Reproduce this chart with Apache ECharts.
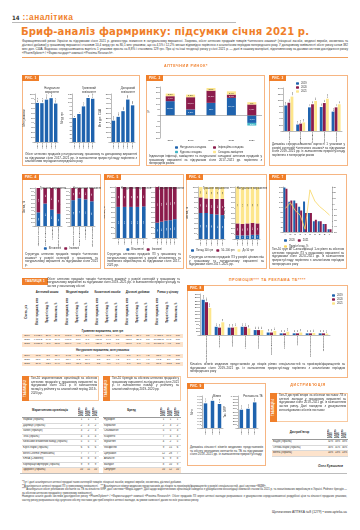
<!DOCTYPE html>
<html lang="uk"><head><meta charset="utf-8">
<script src="https://cdn.jsdelivr.net/npm/echarts@6.0.0/dist/echarts.min.js"></script>
<style>
html,body{margin:0;padding:0}
body{width:360px;height:530px;position:relative;overflow:hidden;background:#fff;font-family:"Liberation Sans","DejaVu Sans",sans-serif;color:#2a2a2a}
.a{position:absolute}
.box{position:absolute;border:1px solid #f6b582;box-sizing:border-box}
.rl{position:absolute;background:#f07f2a;color:#fff;font-weight:bold;font-size:3.2px;line-height:6px;padding:0 3px;letter-spacing:0.2px;z-index:5}
.cap{position:absolute;font-size:3px;line-height:3.7px;text-align:justify;color:#333;z-index:5}
.ch{position:absolute;z-index:2}
.h2{position:absolute;color:#f07f2a;font-size:3.6px;font-weight:bold;letter-spacing:0.6px;text-align:center;z-index:5}
.vl{position:absolute;background:#f07f2a;color:#fff;font-weight:bold;font-size:3px;writing-mode:vertical-rl;transform:rotate(180deg);text-align:center;z-index:5}
table{border-collapse:collapse;table-layout:fixed}
td{padding:0;overflow:hidden;white-space:nowrap}
.t1 td{font-size:2.5px;height:4.2px;line-height:4.2px;text-align:center}
.rot{writing-mode:vertical-rl;transform:rotate(180deg);font-size:2.6px;line-height:2.9px;white-space:normal}
.pe{background:#fde3cc}
.t2 td{font-size:2.6px;height:4.6px;line-height:4.6px;border-bottom:0.5px solid #d9d9d9}
</style></head>
<body>
<script>
// ================= DATA =================
const YEARS5 = ['2017','2018','2019','2020','2021'];
const YEARS3 = ['2019','2020','2021'];

// Рис. 1
const F1_PACKS = [81.4, 80.9, 88.2, 91.3, 80.1];
const F1_UAH = [6.0, 7.0, 8.9, 11.0, 10.8];
const F1_USD = [222, 262, 321, 442, 382];

// Рис. 2
const F2_NAMES = ['Натуральна складова','Інфляційна складова','Курсова складова','Складова заміщення'];
const F2_A = [12.5, 5.2, 11.0, 15.4, -6.7];
const F2_B = [4.4, 10.8, 10.8, 2.9, 9.6];
const F2_C = [null, null, null, null, -2.3];
const F2_D = [2.3, 2.3, 2.3, 2.9, 2.0];

// Рис. 3
const F3_CATS = ['Лікарські засоби','Медичні вироби','Косметика','Дієтичні добавки','Загалом'];
const F3_2019 = [83, 21, 77, 78, 63];
const F3_2020 = [92, 24, 87, 91, 77];
const F3_2021 = [112, 28, 98, 105, 87];

// Рис. 4
const F4_CATS = ['Лікарські засоби','Медичні вироби','Косметика','Дієтичні добавки'];
const F4_UAH_DOM = [36, 59, 43, 32];
const F4_UAH_FOR = [64, 41, 57, 68];
const F4_PCS_DOM = [68, 73, 70, 65];
const F4_PCS_FOR = [32, 27, 30, 35];

// Рис. 5
const F5_P1_DOM = [61, 61, 61, 61, 62];
const F5_P1_FOR = [39, 39, 39, 39, 38];
const F5_P2_DOM = [30, 32, 34, 35, 37];
const F5_P2_FOR = [70, 68, 66, 65, 63];

// Рис. 6
const F6_NAMES = ['Понад 100 грн','50–100 грн','До 50 грн'];
const F6_P1_HI = [50, 50, 48, 47, 46];
const F6_P1_MID = [30, 28, 29, 30, 31];
const F6_P1_LO = [20, 22, 23, 23, 23];
const F6_P2_HI = [7, 7, 7, 8, 8];
const F6_P2_MID = [23, 22, 23, 23, 22];
const F6_P2_LO = [70, 71, 70, 69, 70];

// Рис. 7
const F7_CATS = ['A','N','R','C','J','M','G','D','B','L'];
const F7_2020 = [17.8, 12.1, 12.6, 10.1, 12.2, 7.6, 4.3, 4.3, 3.2, 1.1];
const F7_2021 = [17.3, 12.6, 11.5, 8.6, 7.6, 7.6, 4.9, 4.3, 3.2, 1.1];
const F7_GROWTH = [-8, 2, -12, -20, -45, 25, 5, -5, -12, -20];

// Рис. 8
const F8_CATS = ['Провізори/фармацевти','Терапевти','Педіатри','Гінекологи','Неврологи','Отоларингологи','Кардіологи','Урологи','Гастроентерологи','Дерматологи'];
const F8_2019 = [258, 60, 54, 60, 36, 18, 12, 12, 12, 12];
const F8_2020 = [240, 54, 54, 60, 36, 18, 12, 12, 12, 12];
const F8_2021 = [198, 93, 60, 48, 36, 30, 24, 18, 15, 10];

// Рис. 9
const F9_VISITS = [0.77, 0.85, 0.75];
const F9_TV = [570, 600, 800];

// Таблиця 1
const T1_GROUPS = ['Аптечний кошик','Медичні вироби','Косметичні засоби','Дієтичні добавки','Ринок у цілому'];
const T1_SUB = ['Обсяг продажів, млн','Приріст/ спад, %','Питома вага, %'];
const T1_UAH = [
  ['2019','7 962,4','20,0','84,2','795,3','13,3','8,4','366,2','18,7','3,9','331,8','26,4','3,5','9 455,7','19,6','100'],
  ['2020','9 117,2','14,5','84,0','906,1','13,9','8,3','417,5','14,0','3,8','415,7','25,3','3,8','10 856,5','14,8','100'],
  ['2021','8 657,3','-5,0','83,5','869,9','-4,0','8,4','427,1','2,3','4,1','417,0','0,3','4,0','10 371,3','-4,5','100']
];
const T1_PCS = [
  ['2019','66,8','5,0','75,4','14,5','2,0','16,4','3,6','6,5','4,1','3,7','8,4','4,2','88,6','4,8','100'],
  ['2020','68,1','2,0','74,6','15,4','6,2','16,9','3,8','5,6','4,2','3,9','5,4','4,3','91,2','2,9','100'],
  ['2021','59,3','-12,9','74,0','13,6','-11,7','17,0','3,5','-7,9','4,4','3,7','-5,1','4,6','80,1','-12,2','100']
];

// Таблиця 2, 3
const T2_NAMES = ['Фармак (Україна)','Дарниця (Україна)','Sanofi (Франція)','Teva (Ізраїль)','Київський вітамінний завод (Україна)','Юрія-Фарм (Україна)','Berlin-Chemie (Німеччина)','KRKA (Словенія)','Корпорація Артеріум (Україна)','Здоров\u2019я (Україна)'];
const T2_RANKS = [[1,1,1],[2,3,2],[3,2,3],[4,4,4],[5,5,5],[6,6,6],[7,7,7],[8,8,8],[9,9,9],[10,11,10]];
const T3_NAMES = ['Нурофен','Корвалол','Спазмалгон','Ксарелто','Мукалтин','Фосфоглів','Цитрамон','Анальгін','Валідол','Синупрет'];
const T3_RANKS = [[1,1,1],[2,3,2],[5,5,3],[7,4,4],[4,2,5],[9,15,6],[12,28,7],[6,9,8],[8,10,9],[10,12,10]];

// Таблиця 4
const T4_NAMES = ['БаДМ (Україна)','Оптіма-Фарм (Україна)','Вента (Україна)'];
const T4_SHARES = [['32%','33%','33%'],['30%','31%','30%'],['14%','13%','13%']];

// ================= HELPERS =================
const FONT = '"Liberation Sans", Arial, sans-serif';
const C = {blue:'#1f63ae', red:'#8b1c4c', yel:'#fde68c', cyan:'#43b7c7'};
const fmt = v => (v === null || v === undefined) ? '' : String(v).replace('.', ',');
const fmtInt = v => String(v).replace('.', ',').replace(/\B(?=(\d{3})+(?!\d))/g, ' ');

function el(tag, cls, x, y, w, h, html, style) {
  const d = document.createElement(tag);
  if (cls) d.className = cls;
  d.style.left = x + 'px'; d.style.top = y + 'px';
  if (w !== null) d.style.width = w + 'px';
  if (h !== null) d.style.height = h + 'px';
  if (html) d.innerHTML = html;
  if (style) Object.assign(d.style, style);
  if (!d.style.position) d.style.position = 'absolute';
  document.body.appendChild(d);
  return d;
}
function chart(x, y, w, h, opt) {
  const d = el('div', 'ch', x, y, w, h);
  const c = echarts.init(d, null, {width: w, height: h, renderer: 'canvas'});
  opt.animation = false;
  c.setOption(opt);
}
function G(ox, oy, x1, y1, x2, y2) {
  return {left: x1 - ox, top: y1 - oy, width: x2 - x1, height: y2 - y1, containLabel: false, outerBoundsMode: 'none'};
}
const LINE = {show: true, lineStyle: {color: '#777', width: 0.5}};
function vAx(gi, min, max, iv, name, o) {
  return Object.assign({
    type: 'value', gridIndex: gi, min, max, interval: iv, name,
    nameLocation: 'middle', nameGap: 8, nameRotate: 90,
    nameTextStyle: {fontSize: 2.7, color: '#333', fontFamily: FONT},
    axisLabel: {fontSize: 2.5, color: '#333', margin: 1.2, fontFamily: FONT, formatter: v => fmtInt(v)},
    axisLine: LINE, axisTick: {show: true, length: 1, lineStyle: {color: '#777', width: 0.5}},
    splitLine: {show: false}
  }, o || {});
}
function cAx(gi, data, rot, o) {
  return Object.assign({
    type: 'category', gridIndex: gi, data,
    axisLabel: {fontSize: 2.5, color: '#333', margin: 1.2, rotate: rot, interval: 0, fontFamily: FONT},
    axisLine: LINE, axisTick: {show: false}
  }, o || {});
}
const topLab = {show: true, position: 'top', rotate: 90, align: 'left', verticalAlign: 'middle', distance: 1, fontSize: 2.2, color: '#333', fontFamily: FONT, formatter: p => fmt(p.value)};
const inLab = {show: true, position: 'inside', rotate: 90, fontSize: 2.2, color: '#fff', fontFamily: FONT, formatter: p => fmt(p.value)};
function bar(name, data, color, xi, yi, o) {
  return Object.assign({type: 'bar', name, data, xAxisIndex: xi, yAxisIndex: yi, itemStyle: {color}, label: topLab}, o || {});
}
function ttl(text, x, y) {
  return {text, left: x, top: y, textAlign: 'center', textStyle: {fontSize: 2.8, fontWeight: 'normal', color: '#333', lineHeight: 3.4, fontFamily: FONT}};
}
function leg(data, left, top, o) {
  return Object.assign({data, left, top, itemWidth: 3, itemHeight: 2.4, itemGap: 3, padding: 0,
    textStyle: {fontSize: 2.6, color: '#333', fontFamily: FONT, padding: [0, 0, 0, -3]}}, o || {});
}
</script>

<!-- ===== HEADER ===== -->
<div class="a" style="left:12px;top:14px;font-size:6px;font-weight:bold;color:#333;font-family:'Liberation Sans Narrow','DejaVu Sans Condensed',sans-serif">14</div>
<div class="a" style="left:22.5px;top:11.5px;font-size:8.3px;font-weight:bold;color:#f07f2a;letter-spacing:0.5px">::аналітика</div>
<div class="a" style="left:12px;top:22px;width:224px;height:0.8px;background:#b9b9b9"></div>
<div class="a" style="left:21px;top:24.5px;font-size:11.2px;font-weight:bold;color:#f07f2a;white-space:nowrap;font-family:'Liberation Sans Narrow','DejaVu Sans Condensed',sans-serif;letter-spacing:0.1px">Бриф-аналіз фармринку: підсумки січня 2021 р.</div>
<div class="cap" style="left:22px;top:39px;width:326px;font-size:3.05px;line-height:4px">Фармацевтичний ринок України за підсумками січня 2021 р. демонструє зниження в натуральному вираженні. Зокрема, обсяг аптечних продажів товарів «аптечного кошика» (лікарські засоби, медичні вироби, косметика та дієтичні добавки) у грошовому вираженні становив 10,4 млрд грн за 80,1 млн упаковок, що на 4,5% і 12,2% менше відповідно порівняно з аналогічним періодом попереднього року. У доларовому еквіваленті обсяг ринку склав 382 млн дол. США. Водночас середньозважена вартість 1 упаковки зросла на 8,8% і становила 129 грн. Про ці та інші тенденції ринку у січні 2021 р. — далі в нашому матеріалі, підготовленому за даними системи дослідження ринку «PharmXplorer» / «Фармстандарт» компанії «Proxima Research».</div>
<div class="a" style="left:22px;top:57px;width:326px;height:0.8px;background:#f0a060"></div>
<div class="h2" style="left:150px;top:64px;width:72px">АПТЕЧНИЙ РИНОК*</div>

<!-- ===== BOXES ===== -->
<div class="box" style="left:22px;top:75px;width:118px;height:91px"></div>
<div class="rl" style="left:22px;top:75px">РИС. 1</div>
<div class="box" style="left:146px;top:75px;width:119px;height:91px"></div>
<div class="rl" style="left:146px;top:75px">РИС. 2</div>
<div class="box" style="left:269px;top:75px;width:79px;height:91px"></div>
<div class="rl" style="left:269px;top:75px">РИС. 3</div>

<div class="box" style="left:22px;top:174px;width:79px;height:95px"></div>
<div class="rl" style="left:22px;top:174px">РИС. 4</div>
<div class="box" style="left:104px;top:174px;width:80px;height:95px"></div>
<div class="rl" style="left:104px;top:174px">РИС. 5</div>
<div class="box" style="left:186px;top:174px;width:81px;height:95px"></div>
<div class="rl" style="left:186px;top:174px">РИС. 6</div>
<div class="box" style="left:269px;top:174px;width:78px;height:95px"></div>
<div class="rl" style="left:269px;top:174px">РИС. 7</div>

<div class="h2" style="left:215px;top:278px;width:105px">ПРОМОЦІЯ*** ТА РЕКЛАМА ТБ****</div>
<div class="box" style="left:187px;top:285px;width:161px;height:93px"></div>
<div class="rl" style="left:187px;top:285px">РИС. 8</div>
<div class="box" style="left:187px;top:383px;width:79px;height:83px"></div>
<div class="rl" style="left:187px;top:383px">РИС. 9</div>

<!-- captions -->
<div class="cap" style="left:25px;top:153px;width:112px">Обсяг аптечних продажів у натуральному, грошовому та доларовому вираженні за підсумками січня 2017–2021 рр. із зазначенням приросту/спаду порівняно з аналогічним періодом попереднього року</div>
<div class="cap" style="left:149px;top:155px;width:113px">Індикатори інфляції, заміщення та натуральної складової аптечних продажів у грошовому вираженні за підсумками січня 2017–2021 рр. порівняно з попереднім роком</div>
<div class="cap" style="left:272px;top:143px;width:73px">Динаміка середньозваженої вартості 1 упаковки у розрізі категорій «аптечного кошика» за підсумками січня 2019–2021 рр. із зазначенням приросту/спаду порівняно з попереднім роком</div>
<div class="cap" style="left:25px;top:253px;width:73px">Структура аптечних продажів товарів «аптечного кошика» у розрізі категорій у грошовому та натуральному вираженні за підсумками січня 2021 р.</div>
<div class="cap" style="left:107px;top:253px;width:74px">Структура аптечних продажів ЛЗ у грошовому та натуральному вираженні у розрізі вітчизняного та іноземного виробництва за підсумками січня 2017–2021 рр.</div>
<div class="cap" style="left:189px;top:256px;width:75px">Структура аптечних продажів ЛЗ у розрізі цінових ніш у грошовому та натуральному вираженні за підсумками січня 2017–2021 рр.</div>
<div class="cap" style="left:272px;top:248px;width:72px">Топ-10 груп АТС-класифікації 1-го рівня за обсягом аптечних продажів ЛЗ у грошовому вираженні за підсумками січня 2020–2021 рр. із зазначенням приросту/спаду порівняно з аналогічним періодом попереднього року</div>
<div class="cap" style="left:190px;top:363px;width:155px">Кількість візитів медичних представників до лікарів різних спеціальностей та провізорів/фармацевтів за підсумками січня 2019–2021 рр. із зазначенням приросту/спаду порівняно з аналогічним періодом попереднього року</div>
<div class="cap" style="left:190px;top:446px;width:73px">Динаміка кількості візитів медичних представників та обсягу рекламних контактів на ТБ за підсумками січня 2019–2021 рр. із зазначенням приросту/спаду</div>

<!-- ===== TABLE 1 ===== -->
<div class="rl" style="left:22px;top:278px;line-height:7px">ТАБЛИЦЯ 1</div>
<div class="cap" style="left:47px;top:277.5px;width:133px">Обсяг аптечних продажів товарів «аптечного кошика» у розрізі категорій у грошовому та натуральному вираженні за підсумками січня 2019–2021 рр. із зазначенням приросту/спаду та частки у загальному обсязі</div>
<div id="t1" class="a" style="left:22px;top:289px;width:161px"></div>

<!-- ===== TABLES 2,3 ===== -->
<div class="box" style="left:22px;top:376px;width:77px;height:25px;border-color:#f8c9a0"></div>
<div class="vl" style="left:22px;top:376px;width:7px;height:25px;line-height:7px">ТАБЛИЦЯ 2</div>
<div class="cap" style="left:31px;top:377px;width:66px">Топ-10 маркетингових організацій за обсягом аптечних продажів у грошовому вираженні за підсумками січня 2021 р. із зазначенням позиції у рейтингу за аналогічний період 2019–2020 рр.</div>
<div class="box" style="left:103px;top:376px;width:78px;height:25px;border-color:#f8c9a0"></div>
<div class="vl" style="left:103px;top:376px;width:7px;height:25px;line-height:7px">ТАБЛИЦЯ 3</div>
<div class="cap" style="left:112px;top:377px;width:67px">Топ-10 брендів за обсягом аптечних продажів у грошовому вираженні за підсумками січня 2021 р. із зазначенням позиції у рейтингу за аналогічний період 2019–2020 рр.</div>
<div id="t2" class="a" style="left:22px;top:404px;width:77px"></div>
<div id="t3" class="a" style="left:103px;top:404px;width:78px"></div>

<!-- ===== DISTRIBUTION ===== -->
<div class="h2" style="left:280px;top:383px;width:56px">ДИСТРИБ'ЮЦІЯ</div>
<div class="box" style="left:270px;top:393px;width:78px;height:29px;border-color:#f8c9a0"></div>
<div class="vl" style="left:270px;top:393px;width:7px;height:29px;line-height:7px">ТАБЛИЦЯ 4</div>
<div class="cap" style="left:279px;top:394px;width:67px">Топ-3 дистриб'ютори за обсягом поставок ЛЗ в аптечні заклади у грошовому вираженні за підсумками січня 2019–2021 рр. із зазначенням частки ринку. Дані наведено з урахуванням консолідованих обсягів поставок</div>
<div id="t4" class="a" style="left:272px;top:426px;width:76px"></div>
<div class="a" style="left:318px;top:464px;font-size:3.2px;font-weight:bold;font-style:italic;color:#333">Олег Кувшинов</div>

<!-- ===== FOOTER ===== -->
<div class="a" style="left:20px;top:473px;width:327px;height:0.8px;background:#bcbcbc"></div>
<div class="cap" style="left:22px;top:481px;width:325px;font-size:2.7px;line-height:3.5px">*Тут і далі аналізуються аптечні продажі таких категорій товарів: лікарські засоби, медичні вироби, косметика, дієтичні добавки.<br>**Аналізуються аптечні продажі ЛЗ у гривневому еквіваленті. &nbsp; ***Аналізуються візити медичних представників до лікарів та провізорів/фармацевтів у розрізі спеціальностей, дані системи «МДМ».<br>****Аналізується обсяг рекламних контактів на ТБ за кількістю GRP, дані системи «Медіа-аудит». Дані щодо маркетингових організацій наведено з урахуванням консолідації компаній станом на 2021 р. та локалізованих виробництв в Україні. Рейтинг брендів — за обсягом аптечних продажів у гривневому еквіваленті.<br>Наведено аналіз даних системи дослідження ринку «PharmXplorer» / «Фармстандарт» компанії «Proxima Research». Обсяг продажів ЛЗ через аптечні заклади розраховано з урахуванням середньозваженої роздрібної ціни та кількості проданих упаковок, частку ринку розраховано від сукупного обсягу поставок дистриб'юторів в аптечні заклади, за умови наявності даних по всіх учасниках ринку.</div>
<div class="a" style="left:272px;top:510px;font-size:3.3px;color:#333;white-space:nowrap">Щотижневик АПТЕКА №8 (1279) • www.apteka.ua</div>

<script>
// ================= TABLES =================
(function(){
  let h = '<table class="t1" style="width:161px"><colgroup><col style="width:10px">';
  for (let i = 0; i < 15; i++) h += '<col style="width:' + ([12,8,10][i%3]) + 'px">';
  h += '</colgroup><tr><td style="height:7px"></td>';
  T1_GROUPS.forEach(g => h += '<td colspan="3" style="font-weight:bold;font-size:2.8px;white-space:normal;line-height:3px">' + g + '</td>');
  h += '</tr><tr><td style="height:32px"><div class="rot" style="margin:auto;font-weight:bold">Січень, рік</div></td>';
  T1_GROUPS.forEach(() => T1_SUB.forEach(s => h += '<td style="height:32px"><div class="rot" style="margin:auto;height:30px;font-weight:bold;color:#222">' + s + '</div></td>'));
  h += '</tr><tr><td colspan="16" style="font-weight:bold;font-size:2.8px;height:6px">Гривневе вираження, млн грн</td></tr>';
  T1_UAH.forEach((r, i) => { h += '<tr' + (i !== 1 ? ' class="pe"' : '') + '>'; r.forEach(v => h += '<td>' + v + '</td>'); h += '</tr>'; });
  h += '<tr><td colspan="16" style="font-weight:bold;font-size:2.8px;height:7px">Натуральне вираження, млн упаковок</td></tr>';
  T1_PCS.forEach((r, i) => { h += '<tr' + (i !== 1 ? ' class="pe"' : '') + '>'; r.forEach(v => h += '<td>' + v + '</td>'); h += '</tr>'; });
  h += '</table>';
  document.getElementById('t1').innerHTML = h;

  function rankTable(id, head, names, ranks, w) {
    let s = '<table class="t2" style="width:' + w + 'px"><colgroup><col><col style="width:7px"><col style="width:7px"><col style="width:7px"></colgroup>';
    s += '<tr><td style="height:13px;text-align:center;font-weight:bold;font-size:2.8px;border-bottom:0.5px solid #999">' + head + '</td>';
    YEARS3.forEach(y => s += '<td style="height:13px;border-bottom:0.5px solid #999"><div class="rot" style="margin:auto;font-weight:bold;height:10px">Січень ' + y + '</div></td>');
    s += '</tr>';
    names.forEach((n, i) => {
      s += '<tr' + (i === names.length - 1 ? ' class="pe"' : '') + '><td style="padding-left:1px">' + n + '</td>';
      ranks[i].forEach(v => s += '<td style="text-align:center">' + v + '</td>');
      s += '</tr>';
    });
    s += '</table>';
    document.getElementById(id).innerHTML = s;
  }
  rankTable('t2', 'Маркетингова організація', T2_NAMES, T2_RANKS, 77);
  rankTable('t3', 'Бренд', T3_NAMES, T3_RANKS, 78);
  rankTable('t4', 'Дистриб\u2019ютор', T4_NAMES, T4_SHARES, 76);
})();

// ================= CHARTS =================
(function(){
  const ox = 22, oy = 75;
  chart(ox, oy, 118, 91, {
    title: [ttl('Натуральне\nвираження', 25, 7), ttl('Гривневий\nеквівалент', 62, 7), ttl('Доларовий\nеквівалент', 101, 7)],
    grid: [G(ox,oy,35,94,58,142), G(ox,oy,72,94,95,142), G(ox,oy,111,94,135,142)],
    xAxis: [cAx(0, YEARS5, 90), cAx(1, YEARS5, 90), cAx(2, YEARS5, 90)],
    yAxis: [vAx(0, 0, 100, 10, 'Млн упаковок'), vAx(1, 0, 12, 1, 'Млрд грн', {nameGap: 5}), vAx(2, 0, 500, 50, 'Млн дол. США')],
    series: [bar('a', F1_PACKS, C.blue, 0, 0, {barWidth: 3.4}), bar('b', F1_UAH, C.blue, 1, 1, {barWidth: 3.4}), bar('c', F1_USD, C.blue, 2, 2, {barWidth: 3.4})]
  });
})();

(function(){
  const ox = 146, oy = 75;
  const lab = Object.assign({}, inLab, {rotate: 0, fontSize: 2.2});
  const mk = (name, data, color, tc) => ({type: 'bar', name, data, stack: 's', barWidth: 9, itemStyle: {color}, label: Object.assign({}, lab, {color: tc || '#fff', formatter: p => fmt(p.value) + '%'})});
  const s0 = mk(F2_NAMES[0], F2_A, C.blue);
  s0.markLine = {silent: true, symbol: 'none', data: [{yAxis: 0}], lineStyle: {color: '#777', width: 0.5, type: 'solid'}, label: {show: false}};
  chart(ox, oy, 119, 91, {
    grid: [G(ox,oy,160,87,262,138)],
    xAxis: [cAx(0, YEARS5, 0, {axisLine: {show: false, onZero: false}})],
    yAxis: [vAx(0, -20, 25, 5, '%', {nameGap: 9, nameRotate: 0})],
    legend: [leg([F2_NAMES[0], F2_NAMES[2]], 29, 71, {orient: 'vertical', itemGap: 1.5}), leg([F2_NAMES[1], F2_NAMES[3]], 67, 71, {orient: 'vertical', itemGap: 1.5})],
    series: [s0, mk(F2_NAMES[1], F2_B, C.red), mk(F2_NAMES[2], F2_C, C.cyan), mk(F2_NAMES[3], F2_D, C.yel, '#333')]
  });
})();

(function(){
  const ox = 269, oy = 75;
  chart(ox, oy, 79, 68, {
    grid: [G(ox,oy,283,88,342,131)],
    xAxis: [cAx(0, F3_CATS, 90)],
    yAxis: [vAx(0, 0, 140, 20, 'Грн')],
    legend: [leg(YEARS3, 27, 7, {orient: 'vertical', itemGap: 1})],
    series: [bar('2019', F3_2019, C.blue, 0, 0, {barWidth: 2.8}), bar('2020', F3_2020, C.red, 0, 0, {barWidth: 2.8}), bar('2021', F3_2021, C.yel, 0, 0, {barWidth: 2.8})]
  });
})();

function stackPanels(ox, oy, w, h, cats, rot, grids, titles, panels, names, colors, legendTop, legO) {
  const opt = {title: titles, grid: [], xAxis: [], yAxis: [], series: [],
    legend: [leg(names, 'center', legendTop, Object.assign({itemGap: 3}, legO || {}))]};
  grids.forEach((g, i) => {
    opt.grid.push(G(ox, oy, g[0], g[1], g[2], g[3]));
    opt.xAxis.push(cAx(i, cats, rot));
    opt.yAxis.push(vAx(i, 0, 100, 10, 'Частка, %', {nameGap: 7}));
    panels[i].forEach((d, k) => opt.series.push({type: 'bar', name: names[k], data: d, stack: 'p' + i, xAxisIndex: i, yAxisIndex: i, barWidth: 3.6,
      itemStyle: {color: colors[k]}, label: Object.assign({}, inLab, {color: colors[k] === C.yel ? '#333' : '#fff'})}));
  });
  chart(ox, oy, w, h, opt);
}
stackPanels(22, 174, 79, 80, F4_CATS, 90,
  [[35,188,62,226],[70,188,95,226]],
  [ttl('Грошове вираження', 26, 8), ttl('Натуральне вираження', 61, 8)],
  [[F4_UAH_DOM, F4_UAH_FOR], [F4_PCS_DOM, F4_PCS_FOR]], ['Вітчизняні','Іноземні'], [C.blue, C.red], 73);
stackPanels(104, 174, 80, 80, YEARS5, 90,
  [[115,187,147,238],[155,187,177,238]],
  [ttl('Натуральне вираження', 27, 8), ttl('Грошове вираження', 62, 8)],
  [[F5_P1_DOM, F5_P1_FOR], [F5_P2_DOM, F5_P2_FOR]], ['Вітчизняні','Іноземні'], [C.blue, C.red], 74);
stackPanels(186, 174, 81, 82, YEARS5, 90,
  [[198,187,225,239],[235,187,260,239]],
  [ttl('Грошове вираження', 25, 8), ttl('Натуральне вираження', 61, 8)],
  [[F6_P1_HI, F6_P1_MID, F6_P1_LO], [F6_P2_HI, F6_P2_MID, F6_P2_LO]], F6_NAMES, [C.blue, C.red, C.yel], 75, {left: 5, width: 70});

(function(){
  const ox = 269, oy = 174;
  chart(ox, oy, 78, 74, {
    grid: [G(ox,oy,283,187,332,232)],
    xAxis: [cAx(0, F7_CATS, 0)],
    yAxis: [vAx(0, 0, 18, 2, 'Частка, %', {nameGap: 7}),
            vAx(0, -50, 30, 10, 'Приріст/спад, %', {position: 'right', nameGap: 8, nameRotate: -90})],
    legend: [leg(['2020','2021','Приріст/спад, %'], 14, 65, {width: 50})],
    series: [
      bar('2020', F7_2020, C.blue, 0, 0, {barWidth: 2, barGap: '0%', label: {show: false}}),
      bar('2021', F7_2021, C.red, 0, 0, {barWidth: 2, label: {show: false}}),
      {type: 'line', name: 'Приріст/спад, %', data: F7_GROWTH, yAxisIndex: 1, symbol: 'none', lineStyle: {color: '#f7d660', width: 0.8}, itemStyle: {color: '#f7d660'}}
    ]
  });
})();

(function(){
  const ox = 187, oy = 285;
  chart(ox, oy, 161, 78, {
    grid: [G(ox,oy,200,294,330,335)],
    xAxis: [cAx(0, F8_CATS, 90)],
    yAxis: [vAx(0, 0, 300, 25, 'Тис. візитів', {nameGap: 8})],
    legend: [leg(YEARS3, 145, 9, {orient: 'vertical', itemGap: 1})],
    series: [bar('2019', F8_2019, C.blue, 0, 0, {barWidth: 3}), bar('2020', F8_2020, C.red, 0, 0, {barWidth: 3}), bar('2021', F8_2021, C.yel, 0, 0, {barWidth: 3})]
  });
})();

(function(){
  const ox = 187, oy = 383;
  chart(ox, oy, 79, 58, {
    title: [ttl('Візити', 25, 7), ttl('Реклама на ТБ', 61, 7)],
    grid: [G(ox,oy,202,396,223,428), G(ox,oy,238,396,258,428)],
    xAxis: [cAx(0, YEARS3, 90), cAx(1, YEARS3, 90)],
    yAxis: [vAx(0, 0, 1, 0.1, 'Млн', {axisLabel: {fontSize: 2.5, color: '#333', margin: 1.2, formatter: v => fmt(v.toFixed(1))}}), vAx(1, 0, 1000, 100, 'Тис. GRP')],
    series: [bar('v', F9_VISITS, C.blue, 0, 0, {barWidth: 3.5}), bar('t', F9_TV, C.blue, 1, 1, {barWidth: 3.5})]
  });
})();
</script>
</body></html>
